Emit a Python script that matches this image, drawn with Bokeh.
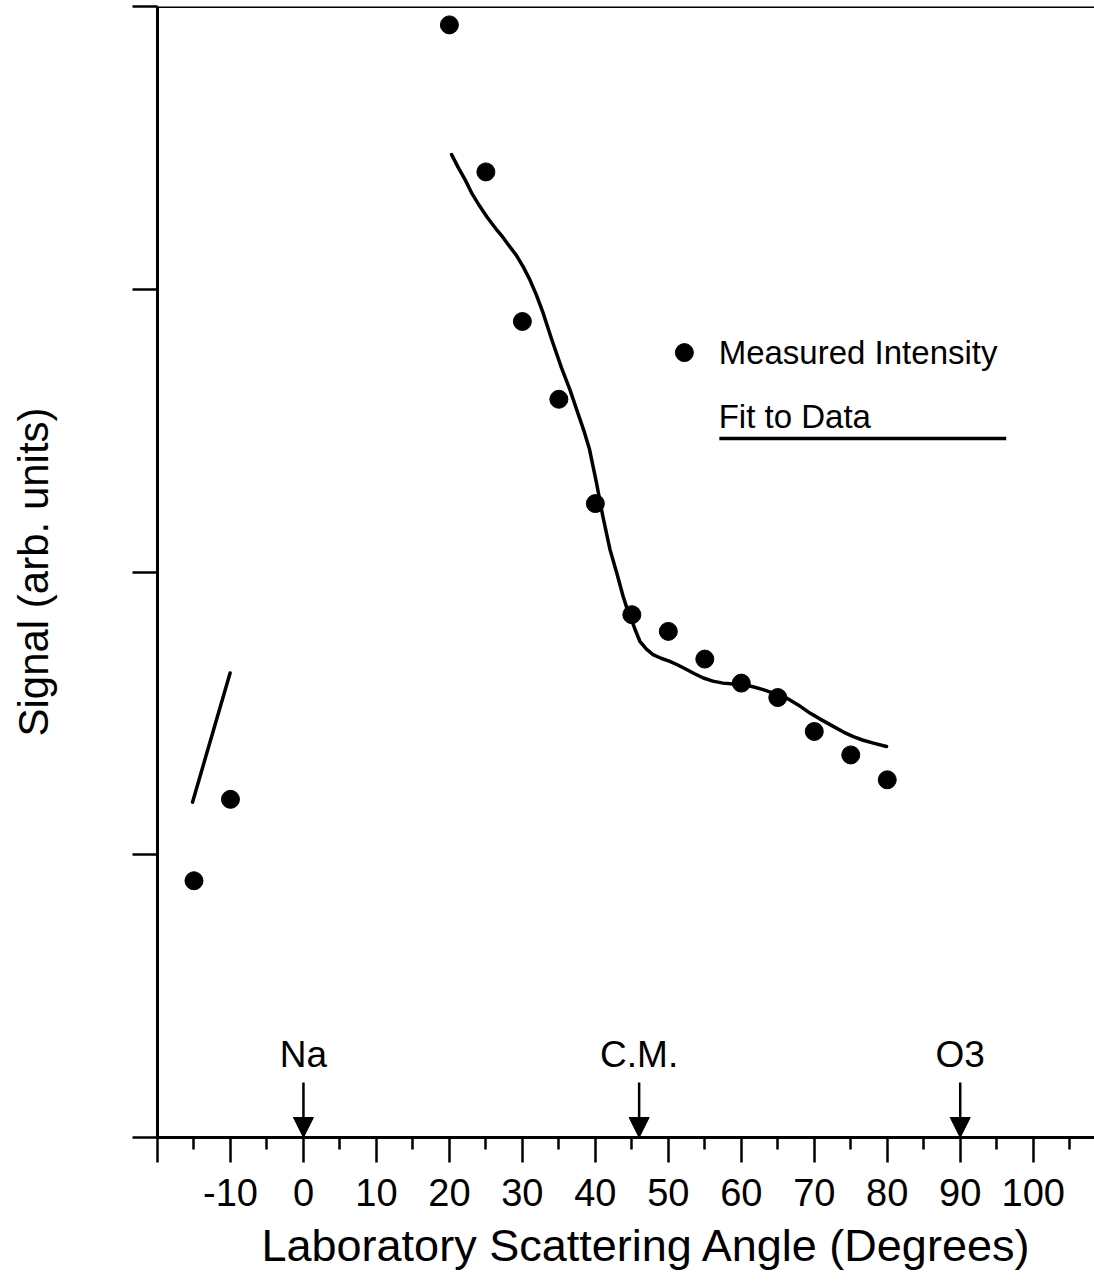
from bokeh.plotting import figure
from bokeh.models import (Range1d, FixedTicker, Span, Label, Arrow, NormalHead,
                          ColumnDataSource, Title)
from bokeh.core.properties import value
from bokeh.embed import file_html
from bokeh.resources import INLINE

# ---------------- data ----------------
angle_measured = [-15, -10, 20, 25, 30, 35, 40, 45, 50, 55, 60, 65, 70, 75, 80]
signal_measured = [0.908, 1.196, 3.935, 3.415, 2.886, 2.611, 2.242, 1.849,
                   1.790, 1.692, 1.607, 1.556, 1.436, 1.353, 1.265]

fit_low_angle = [-15.2, -10.05]
fit_low_signal = [1.186, 1.643]

fit_angle = [20.3, 21.2, 22.2, 23.1, 24.1, 25.2, 26.4, 27.3, 28.0, 29.2, 30.1,
             31.0, 31.9, 32.8, 34.0, 35.35, 36.5, 37.5, 38.4, 39.2, 40.15,
             41.0, 42.0, 43.0, 43.8, 44.4, 44.95, 45.5, 46.1, 47.0, 47.9,
             49.0, 50.2, 51.3, 52.5, 53.6, 54.8, 56.1, 57.5, 58.9, 60.3, 61.6,
             63.0, 64.6, 66.2, 67.8, 69.4, 71.0, 72.6, 74.0, 75.35, 76.7,
             78.1, 79.9]
fit_signal = [3.476, 3.431, 3.385, 3.338, 3.296, 3.254, 3.213, 3.185, 3.160,
              3.119, 3.080, 3.035, 2.981, 2.919, 2.824, 2.723, 2.646, 2.570,
              2.502, 2.434, 2.316, 2.200, 2.080, 1.990, 1.914, 1.866, 1.832,
              1.793, 1.755, 1.727, 1.708, 1.695, 1.684, 1.671, 1.655, 1.640,
              1.625, 1.614, 1.607, 1.604, 1.601, 1.594, 1.584, 1.570, 1.554,
              1.530, 1.501, 1.477, 1.454, 1.434, 1.418, 1.405, 1.395, 1.383]

x_ticks = [-20, -10, 0, 10, 20, 30, 40, 50, 60, 70, 80, 90, 100]
x_tick_labels = ["", "-10", "0", "10", "20", "30", "40", "50", "60", "70",
                 "80", "90", "100"]
x_minor_ticks = [-15, -5, 5, 15, 25, 35, 45, 55, 65, 75, 85, 95, 105]
y_ticks = [0, 1, 2, 3, 4]

marker_names = ["Na", "C.M.", "O3"]
marker_angles = [0, 46, 90]

x_title = "Laboratory Scattering Angle (Degrees)"
y_title = "Signal (arb. units)"
legend_points = "Measured Intensity"
legend_fit = "Fit to Data"

# ---------------- layout / style ----------------
FONT = "Liberation Sans"
X_START, X_END = -20, 108.4
Y_START, Y_END = 0, 4

p = figure(width=1094, height=1283, output_backend="svg", toolbar_location=None,
           x_range=Range1d(X_START, X_END), y_range=Range1d(Y_START, Y_END),
           min_border_left=157, min_border_right=0, min_border_top=6,
           min_border_bottom=146, background_fill_color="white",
           border_fill_color="white", outline_line_color=None)
p.xgrid.grid_line_color = None
p.ygrid.grid_line_color = None

xa = p.xaxis[0]
xa.ticker = FixedTicker(ticks=x_ticks, minor_ticks=x_minor_ticks)
xa.major_label_overrides = {t: l for t, l in zip(x_ticks, x_tick_labels)}
xa.axis_line_width = 3
xa.axis_line_color = "black"
xa.major_tick_line_width = 2.5
xa.minor_tick_line_width = 2.5
xa.major_tick_out = 25
xa.major_tick_in = 0
xa.minor_tick_out = 12
xa.minor_tick_in = 0
xa.major_label_text_font = FONT
xa.major_label_text_font_size = "38px"
xa.major_label_text_color = "black"
xa.major_label_standoff = 16

ya = p.yaxis[0]
ya.ticker = FixedTicker(ticks=y_ticks)
ya.major_label_overrides = {t: "" for t in y_ticks}
ya.axis_line_width = 3
ya.axis_line_color = "black"
ya.major_tick_line_width = 2.5
ya.major_tick_out = 25
ya.major_tick_in = 0
ya.minor_tick_out = 0
ya.minor_tick_in = 0
ya.major_label_standoff = 0
ya.axis_label = y_title
ya.axis_label_text_font = FONT
ya.axis_label_text_font_size = "42px"
ya.axis_label_text_font_style = "normal"
ya.axis_label_text_color = "black"
ya.axis_label_standoff = 76

# x-axis title placed below the axis, shifted right as in the original
p.add_layout(Title(text=x_title, align="left", offset=104, text_font=FONT,
                   text_font_size="45px", text_font_style="normal",
                   text_color="black", standoff=18), "below")

# top frame line
p.add_layout(Span(location=Y_END, dimension="width", line_color="black",
                  line_width=3))

# fit curves
p.line(fit_low_angle, fit_low_signal, line_color="black", line_width=3.5,
       line_join="round", line_cap="round")
p.line(fit_angle, fit_signal, line_color="black", line_width=3.5,
       line_join="round", line_cap="round")

# measured points
p.scatter(angle_measured, signal_measured, size=18, marker="circle",
          fill_color="black", line_color="black")

# reference markers (Na, C.M., O3) with arrows
ARROW_TOP = 0.1945
LABEL_Y = 0.2935
msrc = ColumnDataSource(dict(x=marker_angles, name=marker_names,
                             ys=[ARROW_TOP] * len(marker_angles),
                             ye=[Y_START] * len(marker_angles),
                             ly=[LABEL_Y] * len(marker_angles)))
p.add_layout(Arrow(x_start="x", y_start="ys", x_end="x", y_end="ye",
                   source=msrc, line_width=2.5, line_color="black",
                   end=NormalHead(size=20, fill_color="black",
                                  line_color="black", line_width=1)))
p.text(x="x", y="ly", text="name", source=msrc, text_font=value(FONT),
       text_font_size="37px", text_align="center",
       text_baseline="middle", text_color="black")

# legend
LEG_DOT_X, LEG_DOT_Y = 52.2, 2.776
LEG_TXT_X = 56.9
p.scatter([LEG_DOT_X], [LEG_DOT_Y], size=18, marker="circle",
          fill_color="black", line_color="black")
p.add_layout(Label(x=LEG_TXT_X, y=2.778, text=legend_points, text_font=FONT,
                   text_font_size="33px", text_align="left",
                   text_baseline="middle", text_color="black"))
p.add_layout(Label(x=LEG_TXT_X, y=2.550, text=legend_fit, text_font=FONT,
                   text_font_size="33px", text_align="left",
                   text_baseline="middle", text_color="black"))
p.line([56.99, 96.3], [2.472, 2.472], line_color="black", line_width=3.5)

open("out.html", "w").write(file_html(p, INLINE))
